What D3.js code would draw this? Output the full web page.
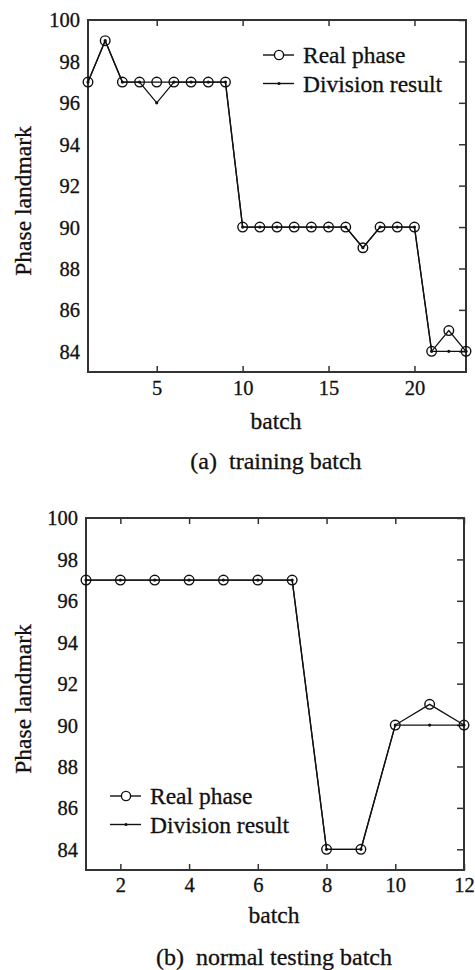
<!DOCTYPE html>
<html>
<head>
<meta charset="utf-8">
<script src="https://cdn.jsdelivr.net/npm/d3@7"></script>
<style>
body { margin: 0; background: #fff; }
svg text { font-family: "Liberation Serif", "Times New Roman", Times, serif; fill: #111; stroke: #111; stroke-width: 0.3px; }
.frame { fill: none; stroke: #333; stroke-width: 2px; }
.tick line { stroke: #333; stroke-width: 1.5px; }
.real_line { fill: none; stroke: #111; stroke-width: 1.3px; }
.div_line { fill: none; stroke: #111; stroke-width: 1.3px; }
</style>
</head>
<body>
<svg id="chart" width="475" height="970"></svg>
<script>

// panel (a) training batch
var train_batch = d3.range(1, 24);
var train_real  = [97, 99, 97, 97, 97, 97, 97, 97, 97, 90, 90, 90, 90, 90, 90, 90, 89, 90, 90, 90, 84, 85, 84];
var train_div   = [97, 99, 97, 97, 96, 97, 97, 97, 97, 90, 90, 90, 90, 90, 90, 90, 89, 90, 90, 90, 84, 84, 84];
var train_xticks = [5, 10, 15, 20];

// panel (b) normal testing batch
var test_batch = d3.range(1, 13);
var test_real  = [97, 97, 97, 97, 97, 97, 97, 84, 84, 90, 91, 90];
var test_div   = [97, 97, 97, 97, 97, 97, 97, 84, 84, 90, 90, 90];
var test_xticks = [2, 4, 6, 8, 10, 12];

var yticks = [84, 86, 88, 90, 92, 94, 96, 98, 100];
var yExt = [83, 100];

var serif = "'Liberation Serif', 'Times New Roman', Times, serif";
var svg = d3.select("#chart");

function add_panel( opts ){
    var m = opts.box;
    var w = m.right - m.left, h = m.bottom - m.top;

    var x = d3.scaleLinear().domain( opts.xExt ).range([ 0, w ]);
    var y = d3.scaleLinear().domain( yExt ).range([ h, 0 ]);

    var g = svg.append("g")
        .attr("transform", "translate(" + m.left + "," + m.top + ")");

    // ticks point inward, labels only on bottom/left
    g.append("g")
        .attr("transform", "translate(0," + h + ")")
        .call(d3.axisBottom(x).tickValues(opts.xticks).tickSizeInner(-6).tickPadding(8))
        .call(function(a){ a.select(".domain").remove(); })
        .selectAll("text").attr("y", opts.tickY - m.bottom).attr("dy", null)
            .style("font-size", "20.5px").style("font-family", serif);

    g.append("g")
        .call(d3.axisTop(x).tickValues(opts.xticks).tickSizeInner(-6).tickFormat(""))
        .call(function(a){ a.select(".domain").remove(); });

    g.append("g")
        .call(d3.axisLeft(y).tickValues(yticks).tickSizeInner(0).tickPadding(8))
        .call(function(a){ a.select(".domain").remove(); })
        .selectAll("text").attr("dy", "0.34em")
            .style("font-size", "20.5px").style("font-family", serif);

    g.append("g")
        .attr("transform", "translate(" + w + ",0)")
        .call(d3.axisRight(y).tickValues(yticks).tickSizeInner(-7).tickFormat(""))
        .call(function(a){ a.select(".domain").remove(); });

    g.append("rect").attr("class", "frame")
        .attr("x", 0).attr("y", 0).attr("width", w).attr("height", h);

    var line = d3.line()
        .x(function(d){ return x(d[0]); })
        .y(function(d){ return y(d[1]); });

    var real = opts.batch.map(function(b, i){ return [b, opts.real[i]]; });
    var div  = opts.batch.map(function(b, i){ return [b, opts.div[i]]; });

    g.append("path").datum(real).attr("class", "real_line").attr("d", line);
    g.append("path").datum(div).attr("class", "div_line").attr("d", line);

    g.selectAll(".real_pt").data(real).enter().append("circle")
        .attr("cx", function(d){ return x(d[0]); })
        .attr("cy", function(d){ return y(d[1]); })
        .attr("r", 4.8)
        .attr("fill", "none").attr("stroke", "#111").attr("stroke-width", 1.4);

    g.selectAll(".div_pt").data(div).enter().append("circle")
        .attr("cx", function(d){ return x(d[0]); })
        .attr("cy", function(d){ return y(d[1]); })
        .attr("r", 1.6).attr("fill", "#111");

    // axis labels
    svg.append("text")
        .attr("transform", "translate(31," + (m.top + h/2 + 5) + ") rotate(-90)")
        .attr("text-anchor", "middle").style("font-size", "23.5px")
        .text("Phase landmark");

    svg.append("text")
        .attr("x", m.left + w/2 - 1).attr("y", opts.xlabY)
        .attr("text-anchor", "middle").style("font-size", "23.5px")
        .text("batch");

    svg.append("text")
        .attr("x", m.left + w/2 - 1).attr("y", opts.capY)
        .attr("text-anchor", "middle").style("font-size", "24px")
        .attr("xml:space", "preserve")
        .text(opts.caption);

    // legend
    var lg = svg.append("g").attr("transform", "translate(" + opts.legend[0] + "," + opts.legend[1] + ")");
    lg.append("line").attr("x1", 0).attr("x2", 31).attr("y1", 0).attr("y2", 0).attr("stroke", "#111").attr("stroke-width", 1.4);
    lg.append("circle").attr("cx", 16).attr("cy", 0).attr("r", 4.6).attr("fill", "#fff").attr("stroke", "#111").attr("stroke-width", 1.4);
    lg.append("text").attr("x", 40).attr("y", 8).style("font-size", "23.5px").text("Real phase");
    lg.append("line").attr("x1", 0).attr("x2", 31).attr("y1", 28.5).attr("y2", 28.5).attr("stroke", "#111").attr("stroke-width", 1.4);
    lg.append("circle").attr("cx", 16).attr("cy", 28.5).attr("r", 1.6).attr("fill", "#111");
    lg.append("text").attr("x", 40).attr("y", 37).style("font-size", "23.5px").text("Division result");
}

add_panel({
    box: {left: 88, right: 466, top: 20, bottom: 372},
    xExt: [1, 23], xticks: train_xticks, tickY: 395,
    batch: train_batch, real: train_real, div: train_div,
    xlabY: 429, capY: 469, caption: "(a)  training batch",
    legend: [263, 55]
});

add_panel({
    box: {left: 86, right: 464, top: 518, bottom: 870},
    xExt: [1, 12], xticks: test_xticks, tickY: 892,
    batch: test_batch, real: test_real, div: test_div,
    xlabY: 923, capY: 965, caption: "(b)  normal testing batch",
    legend: [110, 796]
});

</script>
</body>
</html>
